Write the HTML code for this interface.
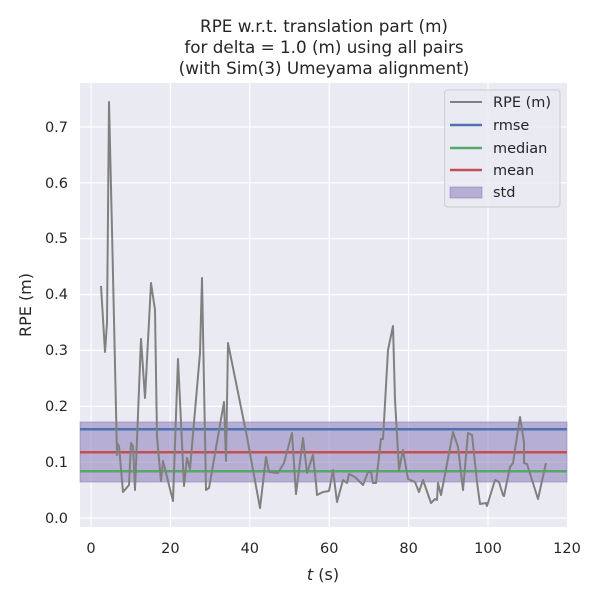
<!DOCTYPE html>
<html><head><meta charset="utf-8"><style>body{margin:0;background:#fff}svg{display:block}text{font-family:"DejaVu Sans","Liberation Sans",sans-serif;fill:#262626}</style></head><body>
<svg width="600" height="600" viewBox="0 0 600 600">
<rect x="80" y="83" width="487" height="444" fill="#eaeaf2"/>
<g stroke="#fff" stroke-width="1.2">
<line x1="91" y1="83" x2="91" y2="527"/><line x1="170.4" y1="83" x2="170.4" y2="527"/><line x1="249.8" y1="83" x2="249.8" y2="527"/><line x1="329.2" y1="83" x2="329.2" y2="527"/><line x1="408.6" y1="83" x2="408.6" y2="527"/><line x1="488" y1="83" x2="488" y2="527"/>
<line x1="80" y1="518" x2="567" y2="518"/><line x1="80" y1="462.1" x2="567" y2="462.1"/><line x1="80" y1="406.3" x2="567" y2="406.3"/><line x1="80" y1="350.4" x2="567" y2="350.4"/><line x1="80" y1="294.6" x2="567" y2="294.6"/><line x1="80" y1="238.7" x2="567" y2="238.7"/><line x1="80" y1="182.8" x2="567" y2="182.8"/><line x1="80" y1="127" x2="567" y2="127"/>
</g>
<rect x="80" y="422" width="487" height="60" fill="#8172b3" fill-opacity="0.5" stroke="#8172b3" stroke-opacity="0.5"/>
<line x1="80" y1="429.3" x2="567" y2="429.3" stroke="#4c72b0" stroke-width="2.5"/>
<line x1="80" y1="471.3" x2="567" y2="471.3" stroke="#55a868" stroke-width="2.5"/>
<line x1="80" y1="452.3" x2="567" y2="452.3" stroke="#c44e52" stroke-width="2.5"/>
<polyline fill="none" stroke="#808080" stroke-width="2" stroke-linejoin="round" points="101,286 105,352 107,323 109,102 112,230 117,455 117,443 119,446 123,492 129,485 131,443 133,446 135,490 141,339 145,398 151,283 155,310 157,437 161,481 163,461 173,501 178,359 184,486 187,458 190,469 200,353 202,278 206,490 209,488 224,402 226,461 228,343 247,437 260,508 266,457 269,472 278,473 284,463 292,433 296,494 303,438 307,473 313,455 316,483 317,495 323,492 329,491 333,470 337,502 343,480 347,483 349,474 355,477 363,485 368,472 371,472 373,483 376,483 381,439 383,439 388,350 393,326 395,400 399,470 403,450 408,479 415,482 419,492 423,480 431,503 435,499 437,500 438,483 441,495 447,464 453,432 458,447 463,490 468,433 472,435 477,482 480,504 486,503 487,506 495,480 499,482 503,495 504,496 510,467 513,463 520,417 524,442 524,463 527,464 538,499 546,463"/>
<g font-size="14.5" text-anchor="middle">
<text x="91" y="553">0</text><text x="170.4" y="553">20</text><text x="249.8" y="553">40</text><text x="329.2" y="553">60</text><text x="408.6" y="553">80</text><text x="488" y="553">100</text><text x="567" y="553">120</text>
</g>
<g font-size="14.5" text-anchor="end">
<text x="68" y="523">0.0</text><text x="68" y="467">0.1</text><text x="68" y="411">0.2</text><text x="68" y="355">0.3</text><text x="68" y="299">0.4</text><text x="68" y="243">0.5</text><text x="68" y="188">0.6</text><text x="68" y="132">0.7</text>
</g>
<text x="323" y="580" font-size="16" text-anchor="middle"><tspan font-style="italic">t</tspan> (s)</text>
<text transform="translate(31,305) rotate(-90)" font-size="16" text-anchor="middle">RPE (m)</text>
<g font-size="16.8" text-anchor="middle">
<text x="324" y="32">RPE w.r.t. translation part (m)</text>
<text x="324" y="53">for delta = 1.0 (m) using all pairs</text>
<text x="324" y="74">(with Sim(3) Umeyama alignment)</text>
</g>
<rect x="444.7" y="90" width="115.3" height="117" rx="3" fill="#eaeaf2" fill-opacity="0.8" stroke="#ccc"/>
<line x1="450" y1="102" x2="482" y2="102" stroke="#808080" stroke-width="2"/>
<line x1="450" y1="125" x2="482" y2="125" stroke="#4c72b0" stroke-width="2.5"/>
<line x1="450" y1="148" x2="482" y2="148" stroke="#55a868" stroke-width="2.5"/>
<line x1="450" y1="170" x2="482" y2="170" stroke="#c44e52" stroke-width="2.5"/>
<rect x="450" y="187" width="32" height="11" fill="#8172b3" fill-opacity="0.5" stroke="#8172b3" stroke-opacity="0.5"/>
<g font-size="14.5">
<text x="493" y="107">RPE (m)</text><text x="493" y="130">rmse</text><text x="493" y="153">median</text><text x="493" y="175">mean</text><text x="493" y="197">std</text>
</g>
</svg>
</body></html>
